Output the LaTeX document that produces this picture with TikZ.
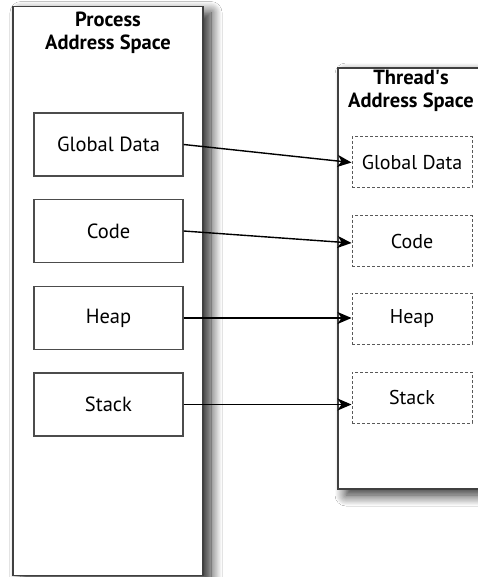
\documentclass[tikz,border=0pt]{standalone}
\usepackage{fontspec}
\setmainfont{PT Sans}
\usetikzlibrary{arrows.meta,shadows.blur}
\begin{document}
\begin{tikzpicture}[x=1pt,y=-1pt,
  space/.style={draw=black!75,line width=1.8pt,fill=white,
    blur shadow={shadow xshift=8pt,shadow yshift=-6pt,shadow blur steps=16,shadow blur radius=11pt,shadow opacity=85}},
  segbox/.style={draw=black!70,line width=1.3pt,fill=white,minimum width=149pt,minimum height=63pt,inner sep=0pt,font=\fontsize{20.5}{22}\selectfont},
  tsegbox/.style={draw=black!65,line width=1pt,dash pattern=on 3pt off 2pt,fill=white,minimum width=120pt,minimum height=51pt,inner sep=0pt,font=\fontsize{20}{22}\selectfont},
  title/.style={align=center,font=\bfseries\fontsize{20.5}{23}\selectfont,inner sep=0pt},
  link/.style={-{Stealth[length=14pt,width=12pt,inset=4pt]},line width=1.4pt,black}]
\useasboundingbox (0,0) rectangle (478,577);
\clip (0,0) rectangle (478,577);
\fill[white] (0,0) rectangle (478,577);
% containers
\node[space,minimum width=190pt,minimum height=569pt,inner sep=0pt] (proc) at (108,291) {};
\node[space,minimum width=160pt,minimum height=421pt,inner sep=0pt] (thr) at (418,278.5) {};
% titles
\node[title] (ptitle) at (108,33) {Process\\Address Space};
\node[title] (ttitle) at (411,91) {Thread\textquotesingle s\\Address Space};
% process segments
\node[segbox] (lg) at (108.5,144.5) {Global Data};
\node[segbox] (lc) at (108.5,231) {Code};
\node[segbox] (lh) at (108.5,318) {Heap};
\node[segbox] (ls) at (108.5,404.5) {Stack};
% thread segments
\node[tsegbox] (rg) at (412,162.5) {Global Data};
\node[tsegbox] (rc) at (412,241) {Code};
\node[tsegbox] (rh) at (412,318.5) {Heap};
\node[tsegbox] (rs) at (412,397.5) {Stack};
% links
\draw[link] (lg.east) -- (rg.west);
\draw[link] (lc.east) -- ($(rc.west)+(0,2)$);
\draw[link] (lh.east) -- (lh.east -| rh.west);
\draw[link] (ls.east) -- (ls.east -| rs.west);
\end{tikzpicture}
\end{document}
